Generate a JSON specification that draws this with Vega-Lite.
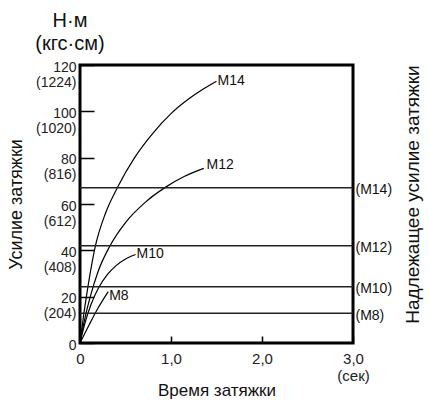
{
  "$schema": "https://vega.github.io/schema/vega-lite/v6.json",
  "width": 273,
  "height": 278,
  "autosize": "none",
  "padding": {"left": 80, "top": 65, "right": 76, "bottom": 57},
  "background": "white",
  "config": {
    "font": "Liberation Sans",
    "view": {"stroke": "black", "strokeWidth": 3}
  },
  "title": {
    "text": ["Н·м", "(кгс·см)"],
    "anchor": "start",
    "align": "center",
    "frame": "group",
    "dx": -10,
    "fontSize": 20,
    "fontWeight": "normal",
    "lineHeight": 23,
    "offset": 6,
    "color": "#111"
  },
  "datasets": {
    "curves": [
      {"bolt": "M14", "t": 0, "v": 0},
      {"bolt": "M14", "t": 0.04, "v": 12},
      {"bolt": "M14", "t": 0.09, "v": 25},
      {"bolt": "M14", "t": 0.17, "v": 42},
      {"bolt": "M14", "t": 0.28, "v": 56},
      {"bolt": "M14", "t": 0.41, "v": 67},
      {"bolt": "M14", "t": 0.6, "v": 80},
      {"bolt": "M14", "t": 0.8, "v": 90.5},
      {"bolt": "M14", "t": 1.0, "v": 99},
      {"bolt": "M14", "t": 1.2, "v": 105.5},
      {"bolt": "M14", "t": 1.35, "v": 109.5},
      {"bolt": "M14", "t": 1.5, "v": 113},
      {"bolt": "M12", "t": 0, "v": 0},
      {"bolt": "M12", "t": 0.05, "v": 10},
      {"bolt": "M12", "t": 0.12, "v": 21},
      {"bolt": "M12", "t": 0.2, "v": 31},
      {"bolt": "M12", "t": 0.33, "v": 42},
      {"bolt": "M12", "t": 0.5, "v": 52},
      {"bolt": "M12", "t": 0.71, "v": 60.5},
      {"bolt": "M12", "t": 0.95, "v": 67.5},
      {"bolt": "M12", "t": 1.15, "v": 72},
      {"bolt": "M12", "t": 1.36, "v": 75.4},
      {"bolt": "M10", "t": 0, "v": 0},
      {"bolt": "M10", "t": 0.05, "v": 8},
      {"bolt": "M10", "t": 0.12, "v": 16.5},
      {"bolt": "M10", "t": 0.2, "v": 23.5},
      {"bolt": "M10", "t": 0.3, "v": 29.5},
      {"bolt": "M10", "t": 0.4, "v": 33.5},
      {"bolt": "M10", "t": 0.5, "v": 36.3},
      {"bolt": "M10", "t": 0.61, "v": 38.2},
      {"bolt": "M8", "t": 0, "v": 0},
      {"bolt": "M8", "t": 0.1, "v": 7.8},
      {"bolt": "M8", "t": 0.2, "v": 15.2},
      {"bolt": "M8", "t": 0.31, "v": 22.2}
    ],
    "levels": [
      {"bolt": "M14", "v": 67},
      {"bolt": "M12", "v": 42},
      {"bolt": "M10", "v": 24.3},
      {"bolt": "M8", "v": 12.8}
    ],
    "labels": [
      {"bolt": "M14", "t": 1.5, "v": 113.3},
      {"bolt": "M12", "t": 1.38, "v": 76.8},
      {"bolt": "M10", "t": 0.61, "v": 38.3},
      {"bolt": "M8", "t": 0.31, "v": 20.5}
    ]
  },
  "layer": [
    {
      "data": {"name": "curves"},
      "mark": {"type": "line", "interpolate": "monotone", "color": "black", "strokeWidth": 1.2},
      "encoding": {
        "x": {
          "field": "t", "type": "quantitative",
          "scale": {"domain": [0, 3], "nice": false},
          "axis": {
            "values": [0, 1, 2, 3],
            "labelExpr": "datum.value == 0 ? '0' : datum.value == 3 ? ['3,0', '\u00a0\u00a0\u00a0\u00a0\u00a0(сек)'] : replace(format(datum.value, '.1f'), '.', ',')",
            "tickSize": -7,
            "tickColor": "black",
            "tickWidth": 1.5,
            "domain": false,
            "grid": false,
            "labelFontSize": 15,
            "labelColor": "#222",
            "labelPadding": 15,
            "labelLineHeight": 17,
            "labelBaseline": "top",
            "labelFlush": false,
            "labelOverlap": false,
            "title": "Время затяжки",
            "titleFontSize": 17,
            "titleFontWeight": "normal",
            "titleColor": "#111",
            "titlePadding": -1
          }
        },
        "y": {
          "field": "v", "type": "quantitative",
          "scale": {"domain": [0, 120], "nice": false},
          "axis": {
            "orient": "left",
            "values": [0, 20, 40, 60, 80, 100, 120],
            "labelExpr": "datum.value == 0 ? '0' : [datum.label, '(' + format(datum.value * 10.2, 'd') + ')']",
            "tickSize": -14,
            "tickColor": "black",
            "tickWidth": 1.5,
            "domain": false,
            "grid": false,
            "labelFontSize": 14,
            "labelColor": "#222",
            "labelBaseline": "top",
            "labelOffset": -5,
            "labelLineHeight": 15,
            "labelPadding": 18,
            "labelOverlap": false,
            "labelFlush": false,
            "title": "Усилие затяжки",
            "titleFontSize": 18,
            "titleFontWeight": "normal",
            "titleColor": "#111",
            "titlePadding": 10
          }
        },
        "detail": {"field": "bolt"}
      }
    },
    {
      "data": {"name": "levels"},
      "mark": {"type": "rule", "color": "#222", "strokeWidth": 1.5},
      "encoding": {
        "y": {
          "field": "v", "type": "quantitative",
          "axis": {
            "orient": "right",
            "values": [12.8, 24.3, 42, 67],
            "labelExpr": "datum.value == 67 ? '(M14)' : datum.value == 42 ? '(M12)' : datum.value > 20 ? '(M10)' : '(M8)'",
            "ticks": false,
            "domain": false,
            "grid": false,
            "labelFontSize": 14,
            "labelColor": "#111",
            "labelPadding": 2,
            "labelOffset": 2,
            "labelOverlap": false,
            "labelFlush": false,
            "title": "Надлежащее усилие затяжки",
            "titleAngle": 270,
            "titleY": 129,
            "titleFontSize": 19,
            "titleFontWeight": "normal",
            "titleColor": "#111",
            "titlePadding": 31
          }
        }
      }
    },
    {
      "data": {"name": "labels"},
      "mark": {"type": "text", "align": "left", "baseline": "middle", "dx": 1, "fontSize": 14, "color": "#111"},
      "encoding": {
        "x": {"field": "t", "type": "quantitative"},
        "y": {"field": "v", "type": "quantitative", "axis": null},
        "text": {"field": "bolt"}
      }
    }
  ],
  "resolve": {"axis": {"y": "independent"}}
}
